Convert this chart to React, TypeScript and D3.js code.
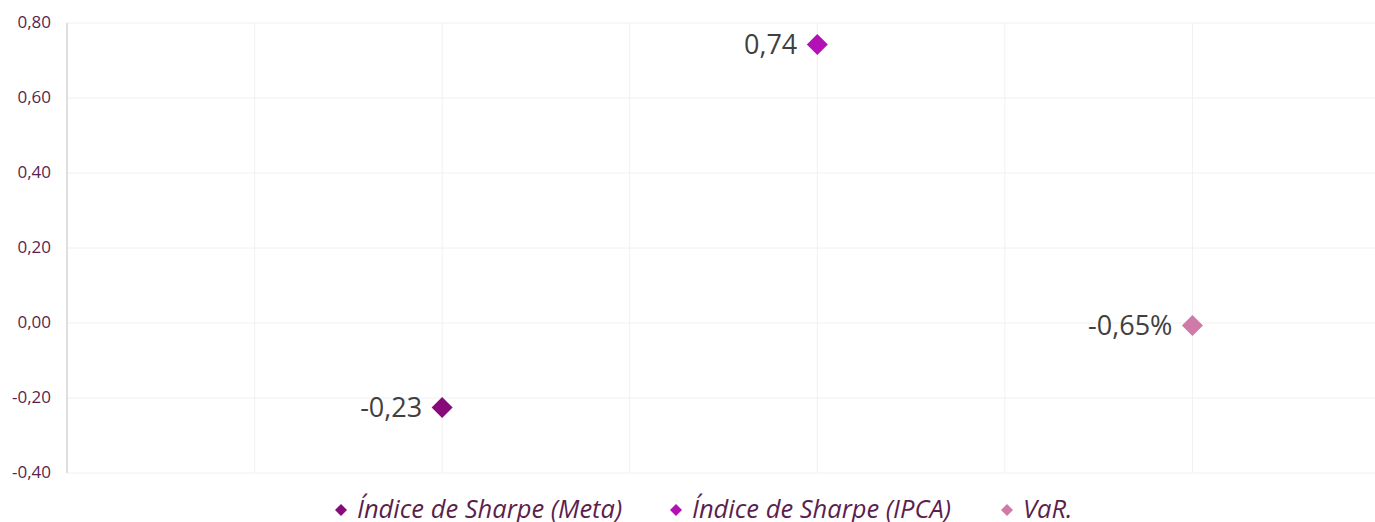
import React from "react";
import * as d3 from "d3";

const seriesNames = ["Índice de Sharpe (Meta)", "Índice de Sharpe (IPCA)", "VaR."];
const seriesX = [2, 4, 6];
const seriesValues = [-0.225, 0.743, -0.0065];
const seriesLabels = ["-0,23", "0,74", "-0,65%"];
const seriesColors = ["#870a7a", "#b311b5", "#cf7aa9"];
const yTicks = [-0.4, -0.2, 0, 0.2, 0.4, 0.6, 0.8];
const xGrid = [1, 2, 3, 4, 5, 6, 7];

const W = 1375;
const H = 522;
const left = 67;
const top = 23;
const bottom = 473;
const right = 1380;

export default function App() {
  const x = d3.scaleLinear().domain([0, 7]).range([left, right]);
  const y = d3.scaleLinear().domain([-0.4, 0.8]).range([bottom, top]);
  const fmt = (v: number) => d3.format(".2f")(v).replace(".", ",").replace("−", "-");
  const diamond = (cx: number, cy: number, r: number) =>
    `M${cx},${cy - r}L${cx + r},${cy}L${cx},${cy + r}L${cx - r},${cy}Z`;
  const legendX = [341, 676, 1007];
  const font = "'Open Sans', sans-serif";
  return (
    <svg width={W} height={H} style={{ position: "absolute", left: 0, top: 0, background: "#fff" }}>
      {yTicks.map((t) => (
        <line key={"h" + t} x1={left} x2={W} y1={y(t)} y2={y(t)} stroke="#f0f0f0" strokeWidth={1} />
      ))}
      {xGrid.map((g) => (
        <line key={"v" + g} x1={x(g)} x2={x(g)} y1={top} y2={bottom} stroke="#f0f0f0" strokeWidth={1} />
      ))}
      <line x1={left} x2={left} y1={top} y2={bottom} stroke="#bfbfbf" strokeWidth={1} />
      {yTicks.map((t) => (
        <text key={"t" + t} x={51} y={y(t)} dy="0.3em" textAnchor="end" fontFamily={font} fontSize={17} fill="#5b1f4f">
          {fmt(t)}
        </text>
      ))}
      {seriesValues.map((v, i) => (
        <g key={"p" + i}>
          <path d={diamond(x(seriesX[i]), y(v), 10.5)} fill={seriesColors[i]} />
          <text x={x(seriesX[i]) - 20} y={y(v)} dy="0.36em" textAnchor="end" fontFamily={font} fontSize={27} fill="#404040">
            {seriesLabels[i]}
          </text>
        </g>
      ))}
      {seriesNames.map((n, i) => (
        <g key={"l" + i}>
          <path d={diamond(legendX[i], 510, 6)} fill={seriesColors[i]} />
          <text x={legendX[i] + 16} y={518} fontFamily={font} fontStyle="italic" fontSize={25.5} fill="#5b1f4f">
            {n}
          </text>
        </g>
      ))}
    </svg>
  );
}
